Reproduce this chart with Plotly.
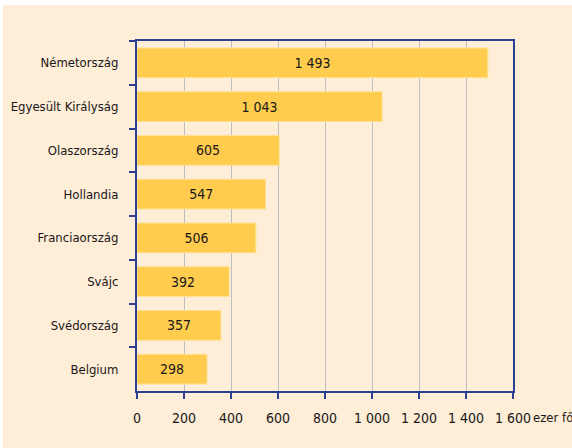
import plotly.graph_objects as go

countries = ["Németország", "Egyesült Királyság", "Olaszország", "Hollandia",
             "Franciaország", "Svájc", "Svédország", "Belgium"]
values = [1493, 1043, 605, 547, 506, 392, 357, 298]
labels = ["1 493", "1 043", "605", "547", "506", "392", "357", "298"]
xticks = [0, 200, 400, 600, 800, 1000, 1200, 1400, 1600]
xticklabels = ["0", "200", "400", "600", "800", "1 000", "1 200", "1 400", "1 600"]
unit = "ezer fő"

FONT = "DejaVu Sans Condensed, Liberation Sans Narrow, sans-serif"
BLUE = "#2B3F95"
PANEL = "#FEEDD7"
TXT = "#1A1718"
FS = 13

fig = go.Figure(go.Bar(
    y=countries, x=values, orientation="h",
    text=labels, textposition="inside", insidetextanchor="middle",
    constraintext="none",
    textfont=dict(family=FONT, size=FS + 1, color=TXT),
    marker=dict(color="#FFCC4E", line=dict(color="#FFE294", width=1)),
    width=0.68,
))

W, H = 572, 448
L, R, T, B = 137, 59, 41, 57
pw, ph = W - L - R, H - T - B

fig.update_layout(
    width=W, height=H,
    margin=dict(l=L, r=R, t=T, b=B, pad=0),
    paper_bgcolor="white", plot_bgcolor="white",
    font=dict(family=FONT, size=FS, color=TXT),
    showlegend=False,
    xaxis=dict(range=[0, 1600], tickvals=xticks, ticktext=xticklabels,
               showgrid=True, gridcolor="#BEBEBE", gridwidth=1.2,
               showline=True, linecolor=BLUE, linewidth=2, mirror=True,
               ticks="outside", ticklen=6, tickwidth=2, tickcolor=BLUE,
               ticklabelstandoff=7, tickfont=dict(size=FS + 1),
               zeroline=False, fixedrange=True),
    yaxis=dict(autorange="reversed", tickson="boundaries",
               showgrid=False, showline=True, linecolor=BLUE, linewidth=2, mirror=True,
               ticks="outside", ticklen=6, tickwidth=2, tickcolor=BLUE,
               ticklabelstandoff=14, fixedrange=True),
    shapes=[
        dict(type="rect", xref="paper", yref="paper", layer="below",
             x0=-(L - 3) / pw, x1=(W - L) / pw, y0=-B / ph, y1=1 + (T - 5) / ph,
             fillcolor=PANEL, line=dict(width=0)),
    ],
    annotations=[dict(text=unit, xref="paper", yref="paper", x=1, y=0,
                      xanchor="left", yanchor="middle", xshift=18, yshift=-26,
                      showarrow=False, font=dict(family=FONT, size=FS, color=TXT))],
)

fig.write_html("out.html", config={"displayModeBar": False},
               post_script="document.body.style.margin='0';document.body.style.padding='0';")
